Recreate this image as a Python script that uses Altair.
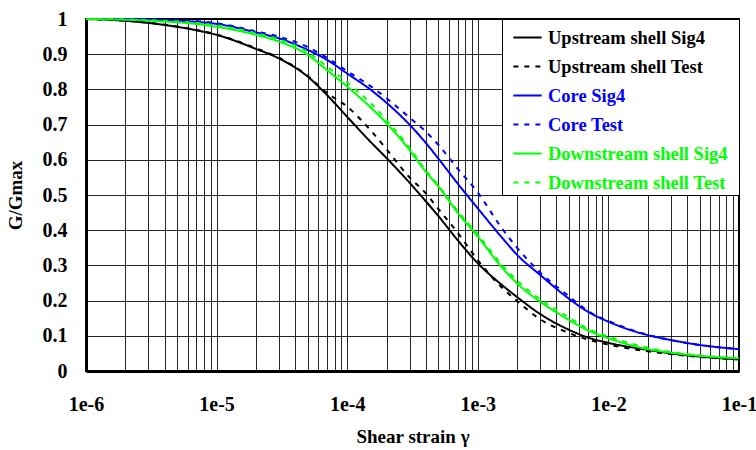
import altair as alt
import pandas as pd

# Shear strain values (x) shared by all series
strain = [1e-6, 2e-6, 4e-6, 7e-6, 1e-5, 2e-5, 3e-5, 5e-5, 7e-5, 1e-4, 1.5e-4, 2e-4,
          3e-4, 4e-4, 5e-4, 7e-4, 1e-3, 1.5e-3, 2e-3, 3e-3, 5e-3, 7e-3, 1e-2, 2e-2,
          3e-2, 5e-2, 1e-1]

up_sig4 = [1.0, 0.995, 0.983, 0.968, 0.955, 0.915, 0.888, 0.836, 0.784, 0.722, 0.652, 0.605,
           0.535, 0.482, 0.44, 0.372, 0.306, 0.247, 0.21, 0.162, 0.117, 0.095, 0.08, 0.06,
           0.05, 0.041, 0.033]
up_test = [1.0, 0.995, 0.984, 0.969, 0.956, 0.917, 0.89, 0.838, 0.79, 0.751, 0.685, 0.63,
           0.55, 0.505, 0.46, 0.393, 0.315, 0.24, 0.199, 0.147, 0.108, 0.089, 0.075, 0.056,
           0.048, 0.04, 0.033]
core_sig4 = [1.0, 1.0, 0.997, 0.992, 0.986, 0.962, 0.945, 0.912, 0.884, 0.845, 0.8, 0.762,
             0.7, 0.648, 0.603, 0.533, 0.462, 0.383, 0.33, 0.273, 0.205, 0.168, 0.14, 0.102,
             0.088, 0.074, 0.062]
core_test = [1.0, 1.0, 0.998, 0.994, 0.988, 0.965, 0.95, 0.92, 0.89, 0.852, 0.81, 0.775,
             0.72, 0.68, 0.642, 0.575, 0.507, 0.41, 0.35, 0.28, 0.212, 0.17, 0.142, 0.103,
             0.088, 0.074, 0.062]
down_sig4 = [1.0, 0.998, 0.993, 0.986, 0.978, 0.955, 0.936, 0.898, 0.855, 0.808, 0.75, 0.704,
             0.628, 0.566, 0.524, 0.45, 0.382, 0.298, 0.249, 0.197, 0.145, 0.115, 0.093, 0.062,
             0.052, 0.043, 0.036]
down_test = [1.0, 0.999, 0.995, 0.989, 0.982, 0.96, 0.942, 0.906, 0.865, 0.82, 0.762, 0.713,
             0.634, 0.57, 0.527, 0.455, 0.388, 0.305, 0.257, 0.204, 0.152, 0.12, 0.098, 0.066,
             0.054, 0.044, 0.036]

series_names = ["Upstream shell Sig4", "Upstream shell Test", "Core Sig4", "Core Test",
                "Downstream shell Sig4", "Downstream shell Test"]
series_values = [up_sig4, up_test, core_sig4, core_test, down_sig4, down_test]
series_colors = ["#000000", "#000000", "#0000ff", "#0000ff", "#00ff00", "#00ff00"]
series_dash = [[1, 0], [5, 6], [1, 0], [5, 6], [1, 0], [5, 6]]

decades = [1e-6, 1e-5, 1e-4, 1e-3, 1e-2, 1e-1]
x_grid = [m * d for d in decades[:-1] for m in range(1, 10)] + [decades[-1]]
y_ticks = [0.0, 0.1, 0.2, 0.3, 0.4, 0.5, 0.6, 0.7, 0.8, 0.9, 1.0]

rows = []
for name, vals in zip(series_names, series_values):
    for i, (x, y) in enumerate(zip(strain, vals)):
        rows.append({"series": name, "strain": x, "ratio": y, "order": i})
df = pd.DataFrame(rows)

FONT = "Liberation Serif"

label_color_expr = ("indexof(datum.label, 'Core') >= 0 ? '#0000ff' : "
                    "(indexof(datum.label, 'Downstream') >= 0 ? '#00ff00' : '#000000')")

chart = alt.Chart(df).mark_line(strokeWidth=2, interpolate="monotone").encode(
    x=alt.X("strain:Q",
            scale=alt.Scale(type="log", domain=[1e-6, 1e-1], nice=False),
            axis=alt.Axis(title="Shear strain γ", values=x_grid, grid=True,
                          ticks=False, labelOverlap=False, labelPadding=23,
                          labelFlush=False,
                          labelExpr="abs(log(datum.value)/LN10 - round(log(datum.value)/LN10)) < 0.001 ? '1e' + round(log(datum.value)/LN10) : ''",
                          titlePadding=13)),
    y=alt.Y("ratio:Q",
            scale=alt.Scale(domain=[0, 1], nice=False),
            axis=alt.Axis(title="G/Gmax", values=y_ticks, format=".1~f", grid=True,
                          ticks=False, labelPadding=19, titlePadding=17)),
    color=alt.Color("series:N",
                    scale=alt.Scale(domain=series_names, range=series_colors),
                    legend=alt.Legend(title=" ", titleOrient="right", titlePadding=8,
                                      titleFontSize=10,
                                      orient="top-right", offset=0,
                                      symbolType="stroke", symbolSize=800,
                                      symbolStrokeWidth=2, labelLimit=400,
                                      labelFontSize=18.5, labelFont=FONT,
                                      labelFontWeight="bold", rowPadding=4,
                                      padding=3, symbolOffset=7, labelOffset=5,
                                      fillColor="white", strokeColor="black",
                                      labelColor=alt.ExprRef(label_color_expr))),
    strokeDash=alt.StrokeDash("series:N",
                              scale=alt.Scale(domain=series_names, range=series_dash),
                              legend=None),
    order="order:Q",
).properties(
    width=653, height=352,
    autosize=alt.AutoSizeParams(type="none"),
    padding={"left": 86, "top": 19, "right": 17, "bottom": 79},
    background="white",
).configure_view(
    stroke="black", strokeWidth=2
).configure_axis(
    labelFont=FONT, titleFont=FONT, labelFontSize=20, titleFontSize=19,
    labelFontWeight="bold", titleFontWeight="bold", labelColor="black", titleColor="black",
    domainColor="black", domainWidth=3, gridColor="#000000", gridWidth=1, gridOpacity=0.85
)

chart.save("out.html", embed_options={"renderer": "svg", "actions": False})
